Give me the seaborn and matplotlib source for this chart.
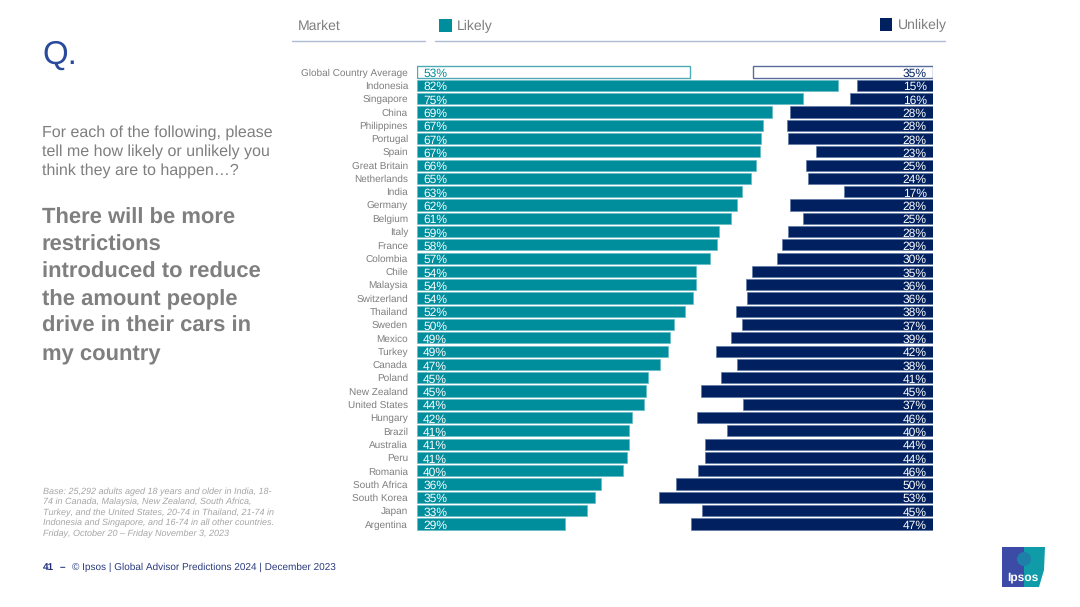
import matplotlib
matplotlib.use("Agg")
import matplotlib.pyplot as plt
from matplotlib.lines import Line2D
from matplotlib.patches import Circle, Polygon, Rectangle
import seaborn as sns

markets = ["Global Country Average", "Indonesia", "Singapore", "China", "Philippines", "Portugal", "Spain",
           "Great Britain", "Netherlands", "India", "Germany", "Belgium", "Italy", "France", "Colombia",
           "Chile", "Malaysia", "Switzerland", "Thailand", "Sweden", "Mexico", "Turkey", "Canada", "Poland",
           "New Zealand", "United States", "Hungary", "Brazil", "Australia", "Peru", "Romania",
           "South Africa", "South Korea", "Japan", "Argentina"]
likely = [53.2, 82.1, 75.2, 69.2, 67.4, 67.1, 66.9, 66.1, 65.1, 63.4, 62.4, 61.2, 58.9, 58.4, 57.1,
          54.4, 54.4, 53.8, 52.2, 50.1, 49.4, 48.9, 47.4, 45.0, 44.6, 44.2, 41.9, 41.4, 41.3, 40.9, 40.2,
          35.9, 34.7, 33.1, 28.8]
unlikely = [35.0, 14.8, 16.2, 27.9, 28.4, 28.3, 22.8, 24.7, 24.4, 17.4, 27.9, 25.4, 28.3, 29.4, 30.4,
            35.3, 36.4, 36.3, 38.4, 37.2, 39.4, 42.3, 38.2, 41.4, 45.2, 37.0, 46.0, 40.2, 44.4, 44.4, 45.8,
            50.1, 53.4, 45.0, 47.2]

question = ["For each of the following, please", "tell me how likely or unlikely you", "think they are to happen…?"]
statement = ["There will be more", "restrictions", "introduced to reduce", "the amount people",
             "drive in their cars in", "my country"]
base_note = ["Base: 25,292 adults aged 18 years and older in India, 18-",
             "74 in Canada, Malaysia, New Zealand, South Africa,",
             "Turkey, and the United States, 20-74 in Thailand, 21-74 in",
             "Indonesia and Singapore, and 16-74 in all other countries.",
             "Friday, October 20 – Friday November 3, 2023"]

TEAL = "#008D9C"
NAVY = "#002060"
GREY = "#7F7F7F"
W, H = 1080, 607

sns.set_theme(style="white")
plt.rcParams["font.family"] = ["Liberation Sans", "DejaVu Sans"]
plt.rcParams["text.hinting"] = "no_hinting"
plt.rcParams["text.hinting_factor"] = 1

fig = plt.figure(figsize=(10.8, 6.07), dpi=100, facecolor="white")


def fx(x):
    return x / W


def fy(y):
    return 1 - y / H


def label(x, y, s, **kw):
    kw.setdefault("va", "center")
    fig.text(fx(x), fy(y), s, **kw)


# two overlapping axes, both 100% wide, the right one runs backwards
top, bottom = 65.4, 530.6
ax1 = fig.add_axes([fx(417), fy(bottom), 513 / W, (bottom - top) / H])
ax2 = fig.add_axes([fx(420), fy(bottom), 513 / W, (bottom - top) / H])

sns.barplot(y=markets, x=likely, color=TEAL, saturation=1, width=0.84, orient="h",
            edgecolor="#66BBC4", linewidth=0.5, ax=ax1)
sns.barplot(y=markets, x=unlikely, color=NAVY, saturation=1, width=0.84, orient="h",
            edgecolor="#5F7AA6", linewidth=0.5, ax=ax2)

ax1.set_xlim(0, 100)
ax2.set_xlim(100, 0)
for ax in (ax1, ax2):
    ax.set_ylim(34.5, -0.5)
    ax.patch.set_alpha(0)
    ax.set_xlabel("")
    ax.set_ylabel("")
    ax.set_xticks([])
    sns.despine(ax=ax, left=True, bottom=True)

ax1.tick_params(axis="y", length=0, pad=6.5, labelsize=7.1, labelcolor=GREY)
ax2.set_yticks([])

# global average is an outlined bar
ax1.patches[0].set_facecolor("white")
ax1.patches[0].set_edgecolor("#4FAAB5")
ax1.patches[0].set_linewidth(1)
ax2.patches[0].set_facecolor("white")
ax2.patches[0].set_edgecolor("#5A6C9C")
ax2.patches[0].set_linewidth(1)

for i, (a, b) in enumerate(zip(likely, unlikely)):
    ax1.text(1.2, i + 0.14, f"{a:.0f}%", color=TEAL if i == 0 else "white", fontsize=8.9, va="center", ha="left")
    ax2.text(1.2, i + 0.14, f"{b:.0f}%", color=NAVY if i == 0 else "white", fontsize=8.9, va="center", ha="right")

# header
label(298, 26.5, "Market", fontsize=9.9, color=GREY)
label(457, 26.5, "Likely", fontsize=9.9, color=GREY)
label(898, 25.5, "Unlikely", fontsize=9.9, color=GREY)
fig.add_artist(Rectangle((fx(439), fy(32)), 13 / W, 13 / H, transform=fig.transFigure, color=TEAL, lw=0))
fig.add_artist(Rectangle((fx(880), fy(31)), 12 / W, 13 / H, transform=fig.transFigure, color=NAVY, lw=0))
for x0, x1 in [(292, 425), (435, 945)]:
    fig.add_artist(Line2D([fx(x0), fx(x1)], [fy(41), fy(41)], transform=fig.transFigure, color="#AEBBD4", lw=1))

# left panel
label(42, 55, "Q.", fontsize=23.5, color="#2A4A9C")
for i, s in enumerate(question):
    label(42, 133 + i * 19, s, fontsize=11.25, color=GREY)
for i, s in enumerate(statement):
    label(42, 218.5 + i * 27, s, fontsize=16.15, fontweight="bold", color=GREY)
for i, s in enumerate(base_note):
    label(43, 491.5 + i * 10.6, s, fontsize=6.5, style="italic", color="#A6A6A6")

# footer
label(43, 567, "41", fontsize=7.5, fontweight="bold", color="#1F2F7A")
label(60, 567, "–", fontsize=7.5, fontweight="bold", color="#1F2F7A")
label(72, 567, "© Ipsos | Global Advisor Predictions 2024 | December 2023", fontsize=7.33, color="#2A3A80")

# logo
fig.add_artist(Rectangle((fx(1002), fy(587)), 22 / W, 40 / H, transform=fig.transFigure, color="#3B4BA6", lw=0))
fig.add_artist(Polygon([(fx(1024), fy(547)), (fx(1045), fy(547)), (fx(1044), fy(570)), (fx(1039), fy(587)), (fx(1024), fy(587))],
                       closed=True, transform=fig.transFigure, color="#0F9BA8", lw=0))
fig.add_artist(Circle((1024, H - 559), 7, transform=None, color="#1E7FA8", lw=0))
label(1022.5, 577, "Ipsos", fontsize=8.5, fontweight="bold", color="white", ha="center")

fig.savefig("out.png", dpi=100)
